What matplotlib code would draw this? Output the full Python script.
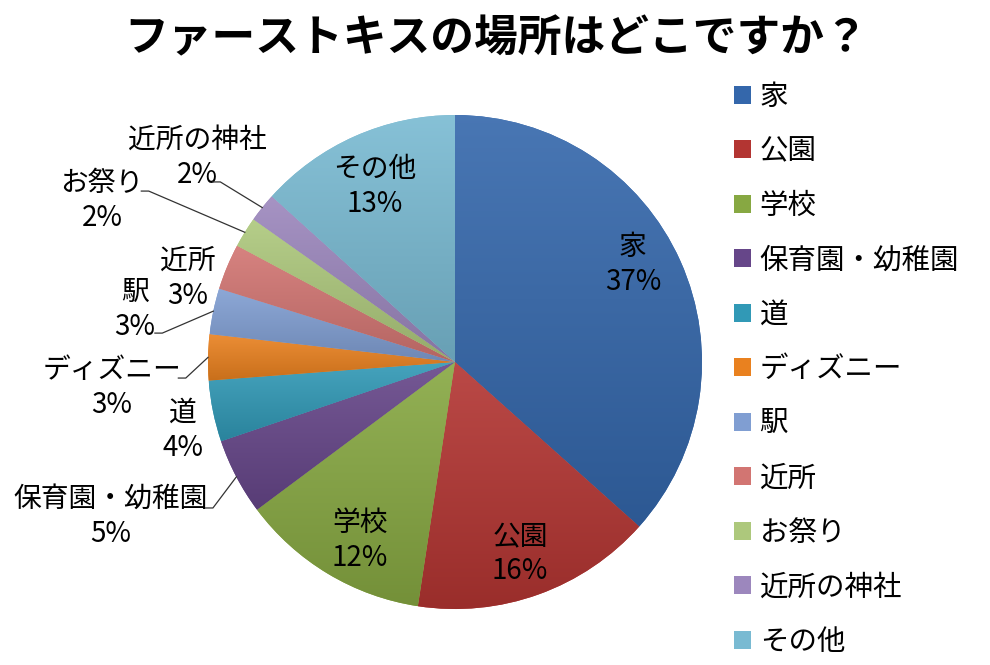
import matplotlib
matplotlib.use("Agg")
import matplotlib.pyplot as plt
import matplotlib.colors as mcolors
from matplotlib.patches import Patch
import numpy as np

plt.rcParams["font.family"] = ["Noto Sans CJK JP", "DejaVu Sans"]

title = "ファーストキスの場所はどこですか？"
places = ["家", "公園", "学校", "保育園・幼稚園", "道", "ディズニー",
          "駅", "近所", "お祭り", "近所の神社", "その他"]
# shares (%)
shares = [36.6, 15.8, 12.4, 5.0, 4.0, 3.0, 3.0, 3.0, 2.0, 1.9, 13.3]
colors = ["#3467ab", "#b33532", "#87a842", "#664689", "#3199b6", "#e9811f",
          "#809ed2", "#d27572", "#adc87c", "#9c87bd", "#79bad2"]

# label centres in pie units (radius = 1)
label_pos = [(0.72, 0.395), (0.263, -0.777), (-0.385, -0.723), (-1.395, -0.626),
             (-1.101, -0.277), (-1.389, -0.103), (-1.296, 0.211), (-1.081, 0.338),
             (-1.429, 0.654), (-1.045, 0.828), (-0.324, 0.711)]
# where leader lines leave the label (None = no leader)
leader_start = [None, None, None, (-1.01, -0.591), None, (-1.12, -0.065),
                (-1.215, 0.117), None, (-1.27, 0.692), (-0.98, 0.729), None]

fig = plt.figure(figsize=(9.9, 6.65), dpi=100)
ax = fig.add_axes([208 / 990, 56 / 665, 494 / 990, 494 / 665])
wedges, _ = ax.pie(shares, colors=colors, startangle=90, counterclock=False,
                   radius=1, wedgeprops=dict(linewidth=0))

# excel-like soft vertical gradient on each slice
for w, c in zip(wedges, colors):
    rgb = np.array(mcolors.to_rgb(c))
    light = rgb + (1 - rgb) * 0.10
    dark = rgb * 0.86
    t = np.linspace(0, 1, 64)[:, None]
    grad = (light[None, :] * (1 - t) + dark[None, :] * t)[:, None, :]
    ext = w.get_path().get_extents()
    im = ax.imshow(grad, extent=(ext.x0, ext.x1, ext.y0, ext.y1), origin="upper",
                   aspect="auto", zorder=w.get_zorder() + 0.1, interpolation="bilinear")
    im.set_clip_path(w)
ax.set_xlim(-1, 1)
ax.set_ylim(-1, 1)
ax.set_aspect("equal")
ax.axis("off")

for i, w in enumerate(wedges):
    x, y = label_pos[i]
    pct = f"{round(shares[i])}%"
    ax.text(x, y + 0.071, places[i], ha="center", va="center", fontsize=20, color="black")
    ax.text(x, y - 0.071, pct, ha="center", va="center", fontsize=20, color="black")
    if leader_start[i] is not None:
        mid = np.deg2rad((w.theta1 + w.theta2) / 2)
        ex, ey = np.cos(mid), np.sin(mid)
        sx, sy = leader_start[i]
        ax.plot([sx, sx + 0.03, ex], [sy, sy, ey], color="#333333", lw=0.9,
                clip_on=False, zorder=5)

fig.text(0.501, 0.943, title, ha="center", va="center", fontsize=31.5,
         fontweight="bold", color="black")

handles = [Patch(facecolor=c, edgecolor="none") for c in colors]
fig.legend(handles, places, loc="upper left", bbox_to_anchor=(734 / 990, 1 - 82 / 665),
           frameon=False, fontsize=20.5, handlelength=0.6, handleheight=0.6,
           handletextpad=0.3, labelspacing=0.86, borderpad=0, borderaxespad=0)

fig.savefig("out.png", dpi=100)
